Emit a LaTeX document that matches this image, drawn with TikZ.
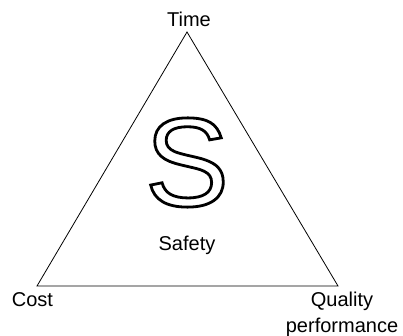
\documentclass[tikz,border=0pt]{standalone}
\usepackage{fontspec}
\setmainfont{Liberation Sans}
\usetikzlibrary{positioning}
\tikzset{corner text/.style={font=\fontsize{20}{26}\selectfont, inner sep=0pt, align=center}}
\newcommand{\hollow}[1]{\special{pdf:literal direct 1 Tr 2.8 w}#1\special{pdf:literal direct 0 Tr}}

\begin{document}
\begin{tikzpicture}[x=1pt,y=-1pt]
\useasboundingbox (0,0) rectangle (403,336);
\coordinate (top) at (187,32);
\coordinate (left) at (37,286);
\coordinate (right) at (338,286);
\draw[line width=0.8pt] (top) -- (left) -- (right) -- cycle;

\node[corner text, above=5pt of top, xshift=2pt] (time) {Time};
\node[corner text, below=6pt of left, xshift=-4.5pt] (cost) {Cost};
\node[corner text, below=6pt of right, xshift=4pt] (quality) {Quality\\performance};

\node[inner sep=0pt, font=\fontsize{126}{126}\selectfont] (s) at (187,162.5) {\hollow{S}};
\node[corner text, anchor=base] (safety) at (187,250) {Safety};
\end{tikzpicture}
\end{document}
